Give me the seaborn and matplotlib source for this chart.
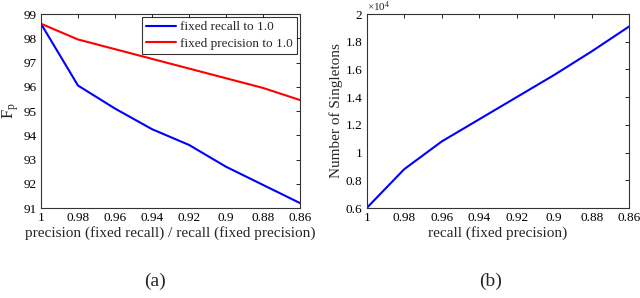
import matplotlib
matplotlib.use("Agg")
import matplotlib.pyplot as plt
import seaborn as sns
import pandas as pd

# values
x_vals = [1.0, 0.98, 0.96, 0.94, 0.92, 0.90, 0.88, 0.86]
x_labels = ['1', '0.98', '0.96', '0.94', '0.92', '0.9', '0.88', '0.86']
fp_fixed_recall = [98.6, 96.05, 95.1, 94.25, 93.6, 92.7, 91.95, 91.2]
fp_fixed_precision = [98.6, 97.95, 97.55, 97.15, 96.75, 96.35, 95.95, 95.45]
singletons = [6000, 8800, 10800, 12400, 14000, 15600, 17300, 19100]
series_names = ['fixed recall to 1.0', 'fixed precision to 1.0']

sns.set_style("white")
plt.rcParams['font.family'] = ['Liberation Serif', 'DejaVu Serif']
plt.rcParams['mathtext.fontset'] = 'custom'
plt.rcParams['mathtext.rm'] = 'Liberation Serif'
plt.rcParams['mathtext.it'] = 'Liberation Serif:italic'
plt.rcParams['font.size'] = 10

df = pd.DataFrame({
    'x': x_vals * 2,
    'fp': fp_fixed_recall + fp_fixed_precision,
    'series': [series_names[0]] * len(x_vals) + [series_names[1]] * len(x_vals),
})

fig = plt.figure(figsize=(6.4, 2.98), dpi=100)
ax1 = fig.add_axes([0.064, 0.302, 0.405, 0.651])
ax2 = fig.add_axes([0.573, 0.302, 0.410, 0.651])

sns.lineplot(data=df, x='x', y='fp', hue='series', palette=['#0000ff', '#ff0000'],
             linewidth=1.5, ax=ax1)
ax1.set_xlim(1.0, 0.86)
ax1.set_ylim(91, 99)
ax1.set_yticks(range(91, 100))
ax1.set_xlabel('precision (fixed recall) / recall (fixed precision)', fontsize=11, labelpad=1)
ax1.set_ylabel(r'$\mathrm{F_p}$', fontsize=12, labelpad=2)
leg = ax1.legend(loc='upper right', frameon=True, fancybox=False, fontsize=9.5,
                 borderpad=0.3, handlelength=2.3, handletextpad=0.3,
                 borderaxespad=0.25, labelspacing=0.3)
leg.get_frame().set_edgecolor('black')
leg.get_frame().set_linewidth(0.8)

sns.lineplot(x=x_vals, y=singletons, color='#0000ff', linewidth=1.5, ax=ax2)
ax2.set_xlim(1.0, 0.86)
ax2.set_ylim(6000, 20000)
ax2.set_yticks([6000, 8000, 10000, 12000, 14000, 16000, 18000, 20000])
ax2.set_yticklabels(['0.6', '0.8', '1', '1.2', '1.4', '1.6', '1.8', '2'])
ax2.text(0.0, 1.0, r'$\times 10^4$', transform=ax2.transAxes, fontsize=8,
         ha='left', va='bottom')
ax2.set_xlabel('recall (fixed precision)', fontsize=11, labelpad=1)
ax2.set_ylabel('Number of Singletons', fontsize=11, labelpad=2)

for ax in (ax1, ax2):
    ax.set_xticks(x_vals)
    ax.set_xticklabels(x_labels)
    ax.tick_params(direction='in', length=3, width=0.6, top=True, right=True,
                   labelsize=9.5, colors='black', pad=3)
    for s in ax.spines.values():
        s.set_color('#333333')
        s.set_linewidth(0.8)

fig.text(0.242, 0.055, '(a)', fontsize=14, ha='center', va='center')
fig.text(0.766, 0.055, '(b)', fontsize=14, ha='center', va='center')

fig.savefig('out.png', dpi=100)
